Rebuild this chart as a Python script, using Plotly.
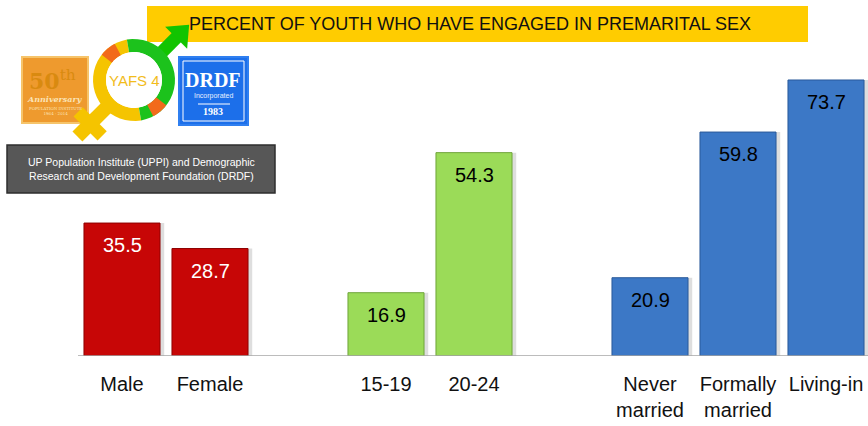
import math
import plotly.graph_objects as go

W, H = 868, 426

# data, one list per group
group_labels = [["Male", "Female"], ["15-19", "20-24"], ["Never<br>married", "Formally<br>married", "Living-in"]]
group_values = [[35.5, 28.7], [16.9, 54.3], [20.9, 59.8, 73.7]]
group_colors = ["#C70606", "#9BDB58", "#3C78C6"]
group_edges = ["#8E0000", "#6FA53A", "#2A5A9A"]
group_text = ["white", "black", "black"]
title_text = "PERCENT OF YOUTH WHO HAVE ENGAGED IN PREMARITAL SEX"
box_text = "UP Population Institute (UPPI) and Demographic<br>Research and Development Foundation (DRDF)"

# slot positions: one empty slot between groups
xs, labels, vals, cols, edges, tcols = [], [], [], [], [], []
slot = 0
for g, (labs, vs) in enumerate(zip(group_labels, group_values)):
    for lab, v in zip(labs, vs):
        xs.append(slot)
        labels.append(lab)
        vals.append(v)
        cols.append(group_colors[g])
        edges.append(group_edges[g])
        tcols.append(group_text[g])
        slot += 1
    slot += 1

fig = go.Figure()
# soft shadow
fig.add_trace(go.Bar(x=[p + 0.05 for p in xs], y=vals, width=0.86,
                     marker=dict(color="rgba(0,0,0,0.13)", line=dict(width=0)),
                     hoverinfo="skip", showlegend=False))
fig.add_trace(go.Bar(x=xs, y=vals, width=0.864,
                     marker=dict(color=cols, line=dict(color=edges, width=1)),
                     showlegend=False))

for p, v, c in zip(xs, vals, tcols):
    fig.add_annotation(x=p, y=v, yshift=-22, text=f"{v:.1f}", showarrow=False,
                       font=dict(family="Liberation Sans, Arial", size=20, color=c))


def px(x, y):
    return x / W, 1 - y / H


shapes = []
# baseline
shapes.append(dict(type="line", xref="x", yref="y", x0=-0.5, x1=8.6, y0=0, y1=0,
                   line=dict(color="#A6A6A6", width=1.5)))
# title box
x0, y0 = px(147, 6); x1, y1 = px(808, 42)
shapes.append(dict(type="rect", xref="paper", yref="paper", x0=x0, x1=x1, y0=y1, y1=y0,
                   fillcolor="#FFCC00", line=dict(width=0), layer="below"))


def path_pts(pts):
    s = ""
    for i, (x, y) in enumerate(pts):
        a, b = px(x, y)
        s += ("M" if i == 0 else "L") + f"{a:.5f},{b:.5f} "
    return s + "Z"


def arc(cx, cy, r1, r2, a0, a1, n=24):
    outer = [(cx + r2 * math.cos(math.radians(a0 + (a1 - a0) * i / n)),
              cy - r2 * math.sin(math.radians(a0 + (a1 - a0) * i / n))) for i in range(n + 1)]
    inner = [(cx + r1 * math.cos(math.radians(a1 - (a1 - a0) * i / n)),
              cy - r1 * math.sin(math.radians(a1 - (a1 - a0) * i / n))) for i in range(n + 1)]
    return dict(type="path", xref="paper", yref="paper", path=path_pts(outer + inner),
                line=dict(width=0))


def poly(pts, color):
    return dict(type="path", xref="paper", yref="paper", path=path_pts(pts),
                fillcolor=color, line=dict(width=0))


def bar_along(cx, cy, ang, d0, d1, half):
    # rotated rectangle starting d0..d1 px from (cx, cy) in direction ang (deg)
    ux, uy = math.cos(math.radians(ang)), -math.sin(math.radians(ang))
    vx, vy = -uy, ux
    return [(cx + ux * d0 + vx * half, cy + uy * d0 + vy * half),
            (cx + ux * d1 + vx * half, cy + uy * d1 + vy * half),
            (cx + ux * d1 - vx * half, cy + uy * d1 - vy * half),
            (cx + ux * d0 - vx * half, cy + uy * d0 - vy * half)]


# 50th anniversary logo
x0, y0 = px(22, 57); x1, y1 = px(88, 123)
shapes.append(dict(type="rect", xref="paper", yref="paper", x0=x0, x1=x1, y0=y1, y1=y0,
                   fillcolor="#EE9A2E", line=dict(color="#F6C46A", width=2)))
# DRDF logo
x0, y0 = px(179, 57); x1, y1 = px(248, 125)
shapes.append(dict(type="rect", xref="paper", yref="paper", x0=x0, x1=x1, y0=y1, y1=y0,
                   fillcolor="#1C6FEA", line=dict(color="#2F7FF0", width=2)))
x0, y0 = px(183, 61); x1, y1 = px(244, 121)
shapes.append(dict(type="rect", xref="paper", yref="paper", x0=x0, x1=x1, y0=y1, y1=y0,
                   fillcolor="rgba(0,0,0,0)", line=dict(color="white", width=1)))
x0, y0 = px(198, 104); x1, _ = px(230, 104)
shapes.append(dict(type="line", xref="paper", yref="paper", x0=x0, x1=x1, y0=y0, y1=y0,
                   line=dict(color="white", width=1)))

# YAFS ring (female/male symbol)
cx, cy = 134, 80
shapes.append(poly(bar_along(cx, cy, 225, 30, 80, 7), "#F5C400"))
mx, my = cx + math.cos(math.radians(225)) * 62, cy - math.sin(math.radians(225)) * 62
shapes.append(poly(bar_along(mx, my, 135, -17, 17, 6.5), "#F5C400"))
shapes.append(poly(bar_along(cx, cy, 45, 30, 62, 6.5), "#12C400"))
tx, ty = cx + math.cos(math.radians(45)) * 78, cy - math.sin(math.radians(45)) * 78
shapes.append(poly([(tx, ty), (tx - 24, ty + 2), (tx - 2, ty + 24)], "#12C400"))
for a0, a1, c in [(100, 280, "#F5C400"), (-80, 100, "#1CC21C"),
                  (118, 142, "#F26A1B"), (-62, -38, "#F26A1B")]:
    s = arc(cx, cy, 28, 41, a0, a1)
    s["fillcolor"] = c
    shapes.append(s)
shapes.append(dict(type="circle", xref="paper", yref="paper",
                   x0=(cx - 28) / W, x1=(cx + 28) / W, y0=1 - (cy + 28) / H, y1=1 - (cy - 28) / H,
                   fillcolor="white", line=dict(width=0)))

# grey box
x0, y0 = px(7, 145); x1, y1 = px(275, 193)
shapes.append(dict(type="rect", xref="paper", yref="paper", x0=x0, x1=x1, y0=y1, y1=y0,
                   fillcolor="#575757", line=dict(color="#2E2E2E", width=1.5)))

ann = [
    dict(x=px(470, 24)[0], y=px(470, 24)[1], text=title_text,
         font=dict(family="Liberation Sans, Arial", size=18, color="#111111")),
    dict(x=px(141, 169)[0], y=px(141, 169)[1], text=box_text,
         font=dict(family="Liberation Sans, Arial", size=10.5, color="white")),
    dict(x=px(52, 80)[0], y=px(52, 80)[1], text="<b>50</b><sup>th</sup>",
         font=dict(family="DejaVu Serif", size=22, color="#D98A10")),
    dict(x=px(55, 99)[0], y=px(55, 99)[1], text="<i><b>Anniversary</b></i>",
         font=dict(family="DejaVu Serif", size=8, color="#FBE3B5")),
    dict(x=px(55, 111)[0], y=px(55, 111)[1], text="POPULATION INSTITUTE<br>1964 - 2014",
         font=dict(family="DejaVu Serif", size=4, color="#FBE3B5")),
    dict(x=px(134, 81)[0], y=px(134, 81)[1], text="YAFS 4",
         font=dict(family="Liberation Sans", size=15, color="#F2BC1C")),
    dict(x=px(213, 80)[0], y=px(213, 80)[1], text="<b>DRDF</b>",
         font=dict(family="Liberation Serif, DejaVu Serif", size=20, color="white")),
    dict(x=px(213, 96)[0], y=px(213, 96)[1], text="Incorporated",
         font=dict(family="Liberation Sans", size=7, color="#E6F0FF")),
    dict(x=px(213, 111)[0], y=px(213, 111)[1], text="<b>1983</b>",
         font=dict(family="Liberation Serif, DejaVu Serif", size=10, color="white")),
]
for a in ann:
    fig.add_annotation(xref="paper", yref="paper", showarrow=False,
                       xanchor="center", yanchor="middle", **a)

fig.update_layout(
    width=W, height=H, margin=dict(l=0, r=0, t=0, b=0),
    plot_bgcolor="white", paper_bgcolor="white",
    barmode="overlay", shapes=shapes,
    xaxis=dict(range=[-122 / 88, (W - 122) / 88], tickvals=xs, ticktext=labels,
               showgrid=False, zeroline=False, showline=False, ticks="",
               ticklabelstandoff=14,
               tickfont=dict(family="Liberation Sans, Arial", size=20, color="#111111")),
    yaxis=dict(range=[0, 356 / 3.745], domain=[70 / H, 1], visible=False, showgrid=False),
)

fig.write_html("out.html", config={"displayModeBar": False},
               post_script="document.body.style.margin='0';")
